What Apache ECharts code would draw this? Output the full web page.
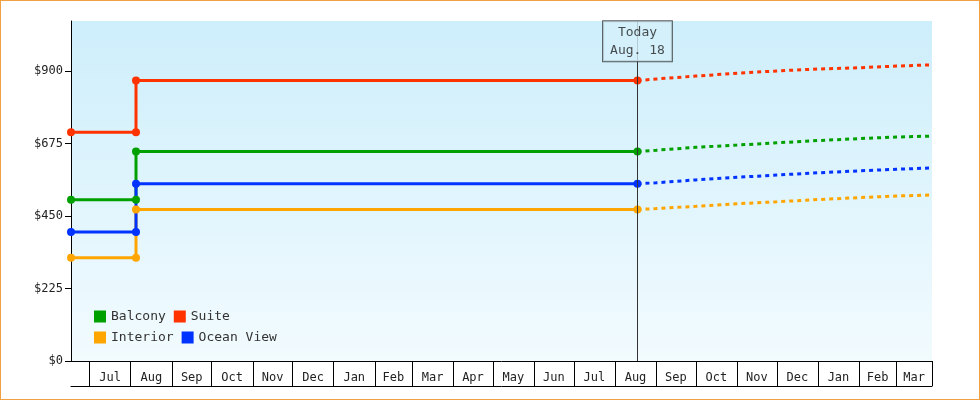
<!DOCTYPE html>
<html><head><meta charset="utf-8">
<script src="https://cdn.jsdelivr.net/npm/echarts@6/dist/echarts.min.js"></script>
<style>html,body{margin:0;padding:0;background:#fff}#c{width:978px;height:398px;border:1px solid #f0a040}</style>
</head><body><div id="c"></div>
<script>
// x values: days since 2013-06-17
const monthStarts = [14,45,76,106,137,167,198,229,257,288,318,349,379,410,441,471,502,532,563,594,622,649];
const monthLabels = ['Jul','Aug','Sep','Oct','Nov','Dec','Jan','Feb','Mar','Apr','May','Jun','Jul','Aug','Sep','Oct','Nov','Dec','Jan','Feb','Mar'];
const todayX = 427;
const todayLabel = 'Today\nAug. 18';
const yTicks = [0,225,450,675,900];
const seriesNames = ['Balcony','Suite','Interior','Ocean View'];
const colors = ['#00a000','#ff3300','#ffa500','#0033ff'];
const histX = [0,49,49,427];
const histValues = {
  'Balcony':   [500,500,650,650],
  'Suite':     [710,710,870,870],
  'Interior':  [320,320,470,470],
  'Ocean View':[400,400,550,550]
};
const fcX = [427,441,471,502,532,563,594,622,649];
const fcValues = {
  'Balcony':   [650,654,663,670,677,684,690,695,698],
  'Suite':     [870,875,884,893,900,906,910,915,919],
  'Interior':  [470,473,480,488,494,501,507,512,515],
  'Ocean View':[550,553,562,570,577,584,590,595,599]
};
const labelCenters = monthLabels.map((m,i)=>(monthStarts[i]+monthStarts[i+1])/2);
const series = [];
seriesNames.forEach((n,i)=>{
  series.push({name:n,type:'line',data:histX.map((x,j)=>[x,histValues[n][j]]),
    symbol:'circle',symbolSize:8,showSymbol:true,itemStyle:{color:colors[i]},
    lineStyle:{width:3,color:colors[i]},z:3,
    markLine: i===0 ? {silent:true,symbol:'none',data:[{xAxis:todayX}],
      lineStyle:{color:'#333',width:1,type:'solid'},
      label:{show:false}} : undefined});
  series.push({name:n,type:'line',data:fcX.map((x,j)=>[x,fcValues[n][j]]),
    symbol:'none',itemStyle:{color:colors[i]},lineStyle:{width:3,type:[4,4],color:colors[i]},z:2});
});
series.push({type:'scatter',data:[[todayX,992]],symbolSize:0,silent:true,z:5,
  label:{show:true,formatter:todayLabel,position:'inside',color:'#222',fontFamily:'DejaVu Sans Mono',fontSize:13,lineHeight:18,
    backgroundColor:'#d4f0fb',borderColor:'#333',borderWidth:1,padding:[2,7]}});
const chart = echarts.init(document.getElementById('c'));
chart.setOption({
  animation:false,
  textStyle:{fontFamily:'DejaVu Sans Mono'},
  grid:{left:70,right:47,top:20,bottom:38,show:true,borderWidth:0,
    backgroundColor:new echarts.graphic.LinearGradient(0,0,0,1,[{offset:0,color:'#cdeefb'},{offset:1,color:'#f2fbfe'}])},
  legend:{data:seriesNames,left:88,bottom:50,width:190,itemWidth:12,itemHeight:12,itemGap:8,icon:'rect',
    textStyle:{fontFamily:'DejaVu Sans Mono',fontSize:13,color:'#333',width:64}},
  xAxis:[{type:'value',min:0,max:649,
    axisLine:{lineStyle:{color:'#000'}},
    axisTick:{show:true,length:25,customValues:monthStarts,lineStyle:{color:'#000'}},
    axisLabel:{customValues:labelCenters,margin:11,color:'#222',fontSize:12,fontFamily:'DejaVu Sans Mono',
      formatter:v=>{const k=labelCenters.indexOf(v);return k>=0?monthLabels[k]:'';}},
    splitLine:{show:false}},
   {type:'value',min:0,max:649,position:'bottom',offset:25,axisLine:{lineStyle:{color:'#000'}},
    axisTick:{show:false},axisLabel:{show:false},splitLine:{show:false}}],
  yAxis:{type:'value',min:0,max:1055,interval:225,
    axisLine:{show:true,lineStyle:{color:'#000'}},axisTick:{show:true,length:6,lineStyle:{color:'#000'}},
    axisLabel:{color:'#222',fontSize:12,fontFamily:'DejaVu Sans Mono',showMaxLabel:false,
      formatter:v=>yTicks.includes(v)?'$'+v:''},splitLine:{show:false}},
  series
});
</script></body></html>
